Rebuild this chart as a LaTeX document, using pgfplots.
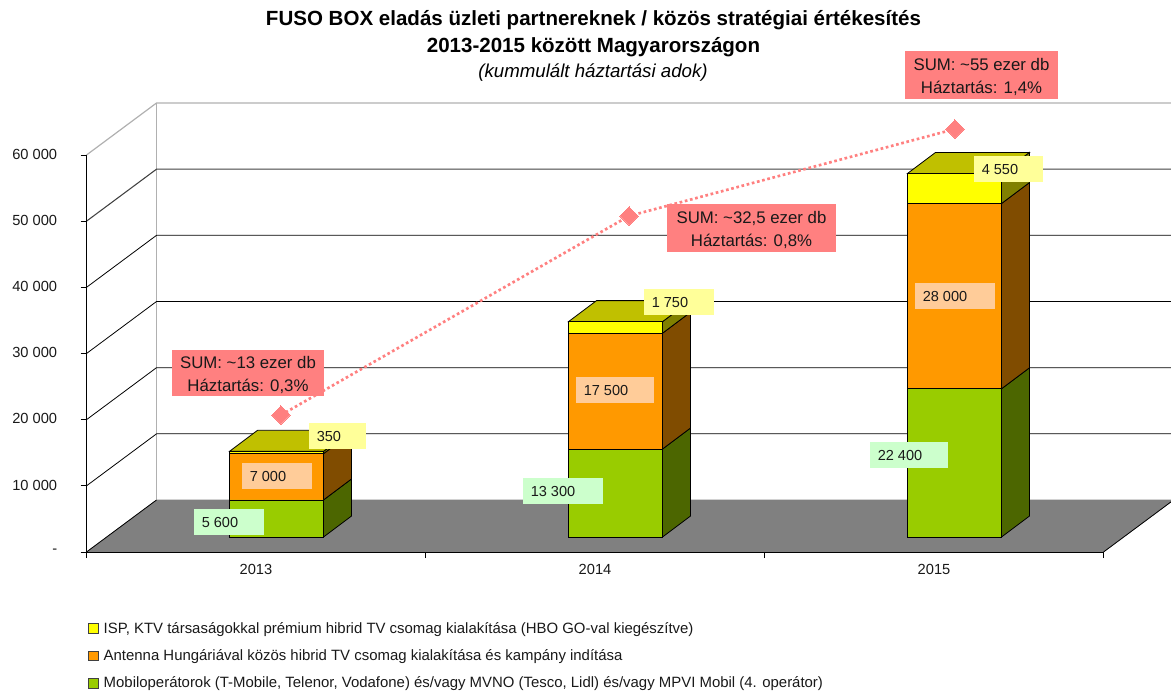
\documentclass[border=0pt]{standalone}
\usepackage{fontspec}
\setmainfont{Liberation Sans}
\usepackage{pgfplots}
\pgfplotsset{compat=1.18}
\definecolor{cgreen}{HTML}{99CC00}
\definecolor{corange}{HTML}{FF9900}
\definecolor{cyellow}{HTML}{FFFF00}
\definecolor{sgreen}{HTML}{4C6600}
\definecolor{sorange}{HTML}{804C00}
\definecolor{syellow}{HTML}{808000}
\definecolor{tyellow}{HTML}{C0C000}
\definecolor{cred}{HTML}{FF8080}
\definecolor{lyellow}{HTML}{FFFF99}
\definecolor{lorange}{HTML}{FFCC99}
\definecolor{lgreen}{HTML}{CCFFCC}
\definecolor{floorgray}{HTML}{808080}
\definecolor{wallgray}{HTML}{B0B0B0}
\pgfplotsset{
  common/.style={scale only axis,width=762.75pt,height=297.75pt,
    xmin=2012.5,xmax=2015.5,ymin=0,ymax=60000,clip=false},
  hidden/.style={common,hide axis,anchor=south west,at={(80.25pt,-402.75pt)}},
}
\newcommand{\lab}[6]{\fill[#5] (#1,#2) rectangle (#3,#4);
  \node[font=\fontsize{10.9}{13}\selectfont,text=black!90,inner sep=0pt,anchor=west] at ({#1+7.5},{(#2+#4)/2}) {#6};}
\newcommand{\sumlab}[6]{\fill[#5] (#1,#2) rectangle (#3,#4);
  \node[font=\fontsize{12.6}{17.3}\selectfont,text=black!90,inner sep=0pt,align=center] at ({(#1+#3)/2},{(#2+#4)/2+2.2}) {#6};}
\begin{document}
\begin{tikzpicture}
\useasboundingbox (0,0) rectangle (878.25pt,-520.5pt);
% walls, floor and axis lines
\begin{axis}[common,anchor=south west,at={(64.875pt,-414pt)},
  axis x line=bottom,axis y line=left,axis line style={-,black},
  scaled y ticks=false,
  tick align=outside,
  xtick={2012.5,2013.5,2014.5,2015.5},xticklabels={},
  extra x ticks={2013,2014,2015},extra x tick labels={2013,2014,2015},
  extra x tick style={major tick length=0pt,xticklabel style={yshift=-6pt}},
  ytick={0,10000,20000,30000,40000,50000,60000},
  yticklabels={-,10 000,20 000,30 000,40 000,50 000,60 000},
  tick label style={font=\fontsize{11}{13}\selectfont,text=black!90},
  yticklabel style={xshift=-14pt,yshift=0.6pt},
  major tick length=4.5pt,
  every tick/.style={black,line width=0.7pt},
  axis on top]
\addplot[fill=floorgray,draw=floorgray] coordinates {(2012.5,0)(2012.7065,7859)(2015.7065,7859)(2015.5,0)} --cycle;
\addplot[wallgray,line width=0.9pt] coordinates {(2012.7065,7859)(2012.7065,67859)};
\addplot[wallgray,line width=0.9pt] coordinates {(2012.5,60000)(2012.7065,67859)(2015.7065,67859)};
\addplot[black,line width=0.6pt] coordinates {(2012.5,10000)(2012.7065,17859)(2015.7065,17859)};
\addplot[black,line width=0.6pt] coordinates {(2012.5,20000)(2012.7065,27859)(2015.7065,27859)};
\addplot[black,line width=0.6pt] coordinates {(2012.5,30000)(2012.7065,37859)(2015.7065,37859)};
\addplot[black,line width=0.6pt] coordinates {(2012.5,40000)(2012.7065,47859)(2015.7065,47859)};
\addplot[black!75,line width=0.8pt] coordinates {(2012.5,50000)(2012.7065,57859)(2015.7065,57859)};
\addplot[black,line width=0.6pt] coordinates {(2012.5,0)(2012.7065,7859)};
\addplot[black,line width=0.6pt] coordinates {(2015.5,0)(2015.7065,7859)};
% short tick stubs on the value axis
\addplot[black,line width=0.7pt] coordinates {(2012.4853,0)(2012.5,0)};
\addplot[black,line width=0.7pt] coordinates {(2012.4853,10000)(2012.5,10000)};
\addplot[black,line width=0.7pt] coordinates {(2012.4853,20000)(2012.5,20000)};
\addplot[black,line width=0.7pt] coordinates {(2012.4853,30000)(2012.5,30000)};
\addplot[black,line width=0.7pt] coordinates {(2012.4853,40000)(2012.5,40000)};
\addplot[black,line width=0.7pt] coordinates {(2012.4853,50000)(2012.5,50000)};
\addplot[black,line width=0.7pt] coordinates {(2012.4853,60000)(2012.5,60000)};
\end{axis}
% side and top faces of the bars
\begin{axis}[hidden]
\addplot[fill=sgreen,draw=black,line width=0.6pt] coordinates {(2013.1386,0)(2013.1386,5600)(2013.2212,8774)(2013.2212,3174)} --cycle;
\addplot[fill=sorange,draw=black,line width=0.6pt] coordinates {(2013.1386,5600)(2013.1386,12600)(2013.2212,15774)(2013.2212,8774)} --cycle;
\addplot[fill=syellow,draw=black,line width=0.6pt] coordinates {(2013.1386,12600)(2013.1386,12950)(2013.2212,16124)(2013.2212,15774)} --cycle;
\addplot[fill=tyellow,draw=black,line width=0.6pt] coordinates {(2012.8614,12950)(2012.944,16124)(2013.2212,16124)(2013.1386,12950)} --cycle;
\addplot[fill=sgreen,draw=black,line width=0.6pt] coordinates {(2014.1386,0)(2014.1386,13300)(2014.2212,16474)(2014.2212,3174)} --cycle;
\addplot[fill=sorange,draw=black,line width=0.6pt] coordinates {(2014.1386,13300)(2014.1386,30800)(2014.2212,33974)(2014.2212,16474)} --cycle;
\addplot[fill=syellow,draw=black,line width=0.6pt] coordinates {(2014.1386,30800)(2014.1386,32550)(2014.2212,35724)(2014.2212,33974)} --cycle;
\addplot[fill=tyellow,draw=black,line width=0.6pt] coordinates {(2013.8614,32550)(2013.944,35724)(2014.2212,35724)(2014.1386,32550)} --cycle;
\addplot[fill=sgreen,draw=black,line width=0.6pt] coordinates {(2015.1386,0)(2015.1386,22400)(2015.2212,25574)(2015.2212,3174)} --cycle;
\addplot[fill=sorange,draw=black,line width=0.6pt] coordinates {(2015.1386,22400)(2015.1386,50400)(2015.2212,53574)(2015.2212,25574)} --cycle;
\addplot[fill=syellow,draw=black,line width=0.6pt] coordinates {(2015.1386,50400)(2015.1386,54950)(2015.2212,58124)(2015.2212,53574)} --cycle;
\addplot[fill=tyellow,draw=black,line width=0.6pt] coordinates {(2014.8614,54950)(2014.944,58124)(2015.2212,58124)(2015.1386,54950)} --cycle;
\end{axis}
% front faces
\begin{axis}[hidden,ybar stacked,bar width=70.5pt,
  reverse legend,
  legend style={at={(-0.0187,-0.208)},anchor=north west,draw=none,fill=none,
    inner sep=0pt,outer sep=0pt,cells={anchor=west},row sep=6.7pt,
    font=\fontsize{11.2}{14}\selectfont,text=black!90,
    /tikz/every odd column/.style={column sep=1.5pt}},
  legend image code/.code={\draw[#1,draw=black!75,line width=0.8pt,fill] (0pt,-3.6pt) rectangle (7.5pt,3.6pt);},
  ]
\addplot[fill=cgreen,draw=black,line width=0.6pt] coordinates {(2013,5600)(2014,13300)(2015,22400)};
\addlegendentry{Mobiloperátorok (T-Mobile, Telenor, Vodafone) és/vagy MVNO (Tesco, Lidl) és/vagy MPVI Mobil (4. operátor)}
\addplot[fill=corange,draw=black,line width=0.6pt] coordinates {(2013,7000)(2014,17500)(2015,28000)};
\addlegendentry{Antenna Hungáriával közös hibrid TV csomag kialakítása és kampány indítása}
\addplot[fill=cyellow,draw=black,line width=0.6pt] coordinates {(2013,350)(2014,1750)(2015,4550)};
\addlegendentry{ISP, KTV társaságokkal prémium hibrid TV csomag kialakítása (HBO GO-val kiegészítve)}
\end{axis}
% household line
\begin{axis}[common,hide axis,anchor=south west,at={(64.875pt,-414pt)}]
\addplot[cred,line width=2pt,dash pattern=on 2pt off 2pt,
  mark=square*,mark size=4.9pt,
  mark options={rotate=45,solid,fill=cred,draw=cred,line width=0pt}]
  coordinates {(2013.0737,20705)(2014.1003,50781)(2015.0619,63929)};
\end{axis}
\begin{scope}[x=.75pt,y=-.75pt]
\sumlab{172}{350}{324}{396}{cred}{SUM: \textasciitilde13 ezer db\\Háztartás: 0,3\%}
\sumlab{667}{204}{836}{252}{cred}{SUM: \textasciitilde32,5 ezer db\\Háztartás: 0,8\%}
\sumlab{905}{51}{1058}{99}{cred}{SUM: \textasciitilde55 ezer db\\Háztartás: 1,4\%}
\lab{309}{423}{366}{449}{lyellow}{350}
\lab{242}{463}{312}{489}{lorange}{7 000}
\lab{194}{509}{264}{535}{lgreen}{5 600}
\lab{644}{289}{714}{315}{lyellow}{1 750}
\lab{576}{377}{654}{403}{lorange}{17 500}
\lab{523}{478}{603}{504}{lgreen}{13 300}
\lab{974}{156}{1043}{182}{lyellow}{4 550}
\lab{915}{283}{995}{309}{lorange}{28 000}
\lab{870}{442}{948}{468}{lgreen}{22 400}
\node[font=\fontsize{15.4}{18}\selectfont\bfseries] at (593.5,20.5) {FUSO BOX eladás üzleti partnereknek / közös stratégiai értékesítés};
\node[font=\fontsize{15.4}{18}\selectfont\bfseries] at (593.5,47) {2013-2015 között Magyarországon};
\node[font=\fontsize{14}{17}\selectfont\itshape] at (593,73) {(kummulált háztartási adok)};
\end{scope}
\end{tikzpicture}
\end{document}
